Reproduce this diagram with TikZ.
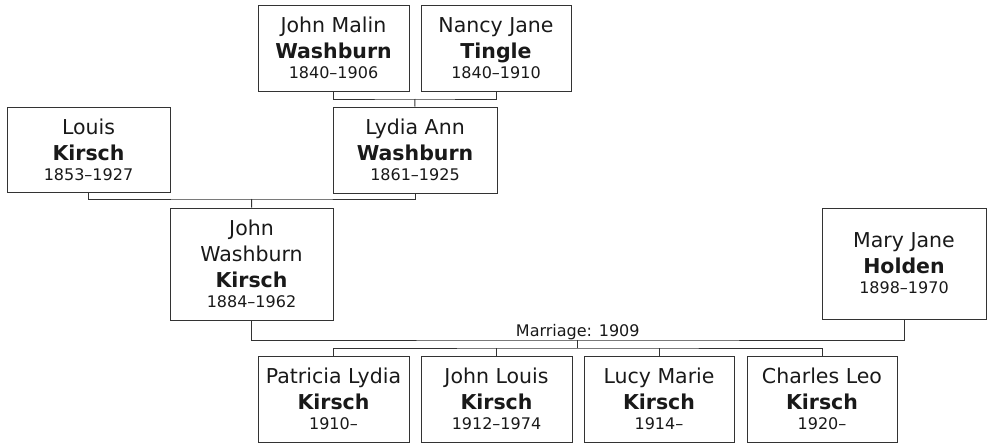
\documentclass[tikz,border=0pt]{standalone}
\usepackage{fontspec}
\setmainfont{DejaVu Sans}
\begin{document}
\begin{tikzpicture}[x=1pt,y=-1pt,
  pbox/.style={draw=black!80, line width=1pt, inner sep=0pt, align=center,
    font=\fontsize{20.5}{26}\selectfont, text=black!90},
  conn/.style={draw=black!80, line width=1pt},
  lbl/.style={font=\fontsize{16}{20}\selectfont, text=black!90, inner sep=0pt}]
\newcommand\yr[1]{{\fontsize{16}{20}\selectfont #1}}
\useasboundingbox (0,0) rectangle (988,445);
% grandparents
\node[pbox, minimum width=151, minimum height=86] (jm) at (333.5,48)
  {John Malin\\\textbf{Washburn}\\[-6pt]\yr{1840--1906}};
\node[pbox, minimum width=150, minimum height=86] (nj) at (496,48)
  {Nancy Jane\\\textbf{Tingle}\\[-6pt]\yr{1840--1910}};
% parents
\node[pbox, minimum width=163, minimum height=85] (lk) at (88.5,149.5)
  {Louis\\\textbf{Kirsch}\\[-6pt]\yr{1853--1927}};
\node[pbox, minimum width=164, minimum height=86] (lw) at (415,150)
  {Lydia Ann\\\textbf{Washburn}\\[-6pt]\yr{1861--1925}};
% couple
\node[pbox, minimum width=163, minimum height=112] (jk) at (251.5,264)
  {John\\Washburn\\\textbf{Kirsch}\\[-6pt]\yr{1884--1962}};
\node[pbox, minimum width=164, minimum height=111] (mh) at (904,263.5)
  {Mary Jane\\\textbf{Holden}\\[-6pt]\yr{1898--1970}};
% children
\node[pbox, minimum width=151, minimum height=86] (pk) at (333.5,399)
  {Patricia Lydia\\\textbf{Kirsch}\\[-6pt]\yr{1910--}};
\node[pbox, minimum width=151, minimum height=86] (jl) at (496.5,399)
  {John Louis\\\textbf{Kirsch}\\[-6pt]\yr{1912--1974}};
\node[pbox, minimum width=150, minimum height=86] (lm) at (659,399)
  {Lucy Marie\\\textbf{Kirsch}\\[-6pt]\yr{1914--}};
\node[pbox, minimum width=150, minimum height=86] (cl) at (822,399)
  {Charles Leo\\\textbf{Kirsch}\\[-6pt]\yr{1920--}};
% connectors
\coordinate (m1) at (414.75,99);
\draw[conn] (jm.south) |- (m1) -| (nj.south);
\draw[conn] (m1) -- (lw.north);
\coordinate (m2) at (251.75,199);
\draw[conn] (lk.south) |- (m2) -| (lw.south);
\draw[conn] (m2) -- (jk.north);
\coordinate (m3) at (577.75,340);
\coordinate (m4) at (577.75,348);
\draw[conn] (jk.south) |- (m3) -| (mh.south);
\draw[conn] (m3) -- (m4);
\node[lbl, anchor=base] (mar) at (577.75,336) {Marriage: 1909};
\draw[conn] (pk.north) |- (m4) -| (cl.north);
\draw[conn] (jl.north) -- (jl.north |- m4);
\draw[conn] (lm.north) -- (lm.north |- m4);
\end{tikzpicture}
\end{document}
